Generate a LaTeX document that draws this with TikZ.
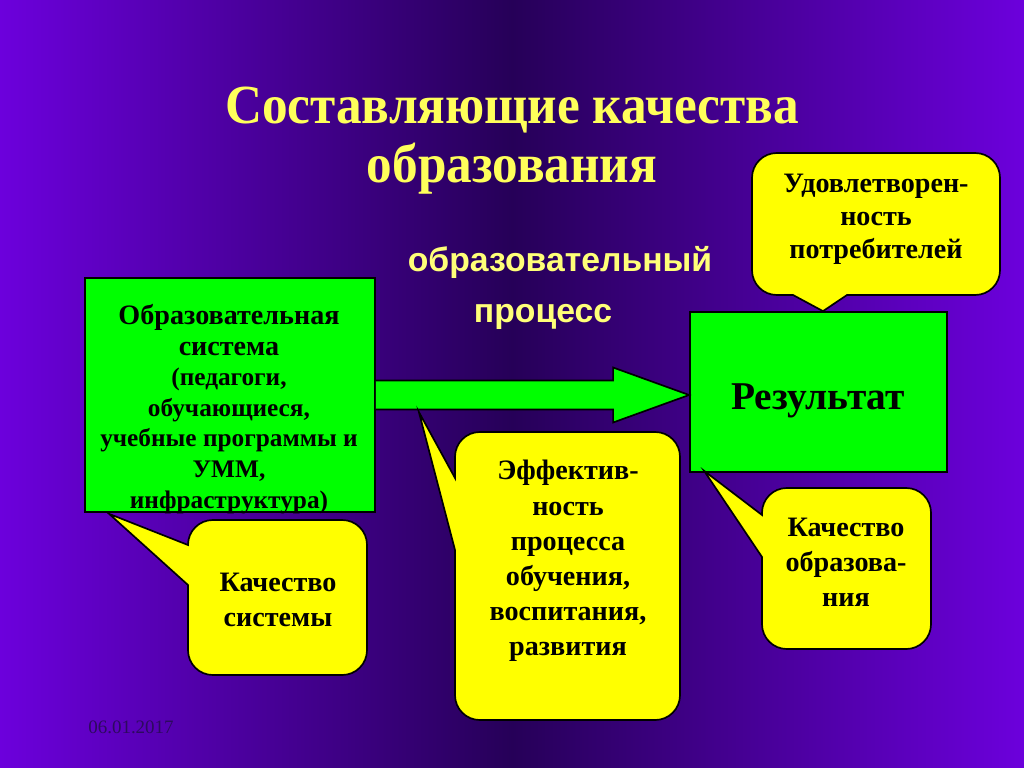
\documentclass[tikz,border=0pt]{standalone}
\usepackage{fontspec}
\setmainfont{Liberation Serif}
\newfontfamily\arialfont{Liberation Sans}
\usepackage{tikz}
\usetikzlibrary{calc}

\definecolor{bgedge}{RGB}{108,0,220}
\definecolor{bgmid}{RGB}{38,0,88}
\definecolor{titleyellow}{RGB}{255,255,90}
\definecolor{procyellow}{RGB}{255,255,120}
\definecolor{boxgreen}{RGB}{0,255,0}
\definecolor{boxyellow}{RGB}{255,255,0}
\definecolor{datepurple}{RGB}{45,10,95}

\begin{document}
\begin{tikzpicture}[x=0.025cm,y=-0.025cm,
  greenbox/.style={draw=black, line width=1.2pt, fill=boxgreen, inner sep=0pt},
  callout/.style={draw=black, line width=1.2pt, fill=boxyellow},
  calltext/.style={align=center, font=\fontsize{20}{25}\selectfont\bfseries}]
% Draw background
\shade [left color=bgedge, right color=bgedge, middle color=bgmid] (0,0) rectangle (1024,768);
\useasboundingbox (0,0) rectangle (1024,768);

% Draw title
\node [align=center, text=titleyellow, font=\fontsize{37}{42}\selectfont\bfseries] (title) at (512,141)
  {\scalebox{0.985}[1.06]{Составляющие качества}\\\scalebox{0.985}[1.06]{образования}};

% Draw process label
\node [anchor=base, text=procyellow, font=\arialfont\fontsize{24}{24}\selectfont\bfseries] (proc1) at (560,271) {образовательный};
\node [anchor=base, text=procyellow, font=\arialfont\fontsize{24}{24}\selectfont\bfseries] (proc2) at (543,322) {процесс};

% Draw green boxes
\node [greenbox, minimum width=7.25cm, minimum height=5.85cm] (sys) at (230,395) {};
\node [align=center, font=\fontsize{18}{21.8}\selectfont\bfseries] (systext) at (229,409)
  {{\fontsize{20}{22}\selectfont Образовательная}\\{\fontsize{20}{22}\selectfont система}\\(педагоги,\\обучающиеся,\\учебные программы и\\УММ,\\инфраструктура)};
\node [greenbox, minimum width=6.425cm, minimum height=4cm] (res) at (818.5,392) {};
\node [font=\fontsize{28}{32}\selectfont\bfseries] (restext) at (818,401) {Результат};

% Draw arrow
\coordinate (tip) at (res.west |- sys.east);
\draw [line width=1.2pt, fill=boxgreen] ($(sys.east)+(0,-14.5)$) -- ($(tip)+(-76,-14.5)$) -- ($(tip)+(-76,-27.5)$) -- (tip)
  -- ($(tip)+(-76,27.5)$) -- ($(tip)+(-76,14.5)$) -- ($(sys.east)+(0,14.5)$);

% Draw callouts
\coordinate (systip) at ($(sys.south west)+(25,1)$);
\coordinate (efftip) at ($(sys.east)+(43,17)$);
\coordinate (restip) at ($(res.south west)+(15,-2)$);
\coordinate (sattip) at ($(res.north)+(4.5,0)$);

\draw [callout] (188,585) [rounded corners=0.62cm] -- (188,675) -- (367,675) -- (367,520) -- (188,520) [sharp corners] -- (188,545) -- (systip) -- cycle;
\draw [callout] (455,550) [rounded corners=0.62cm] -- (455,720) -- (680,720) -- (680,432) -- (455,432) [sharp corners] -- (455,478) -- (efftip) -- cycle;
\draw [callout] (762,557) [rounded corners=0.62cm] -- (762,649) -- (931,649) -- (931,488) -- (762,488) [sharp corners] -- (762,515) -- (restip) -- cycle;
\draw [callout] (847,295) [rounded corners=0.62cm] -- (1000,295) -- (1000,153) -- (752,153) -- (752,295) [sharp corners] -- (793,295) -- (sattip) -- cycle;

\node [calltext] (sysq) at (278,600) {Качество\\системы};
\node [calltext] (effq) at (568,561) {Эффектив-\\ность\\процесса\\обучения,\\воспитания,\\развития};
\node [calltext] (resq) at (846,562) {Качество\\образова-\\ния};
\node [calltext, font=\fontsize{20}{23.5}\selectfont\bfseries] (satq) at (876,219) {Удовлетворен-\\ность\\потребителей};

% Draw date
\node [text=datepurple, font=\fontsize{13.5}{14}\selectfont] (date) at (131,727) {06.01.2017};
\end{tikzpicture}
\end{document}
